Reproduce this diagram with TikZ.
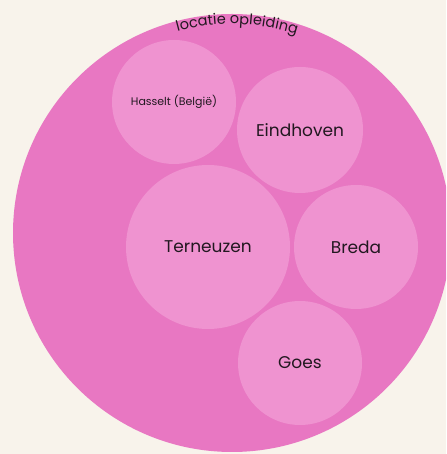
\documentclass[tikz,border=0pt]{standalone}
\usepackage{fontspec}
\setmainfont{Poppins}
\usepackage{xcolor}
\usetikzlibrary{decorations.text}
\definecolor{cream}{RGB}{248,243,235}
\definecolor{rose}{RGB}{232,119,194}
\definecolor{blush}{RGB}{239,147,208}
\definecolor{ink}{RGB}{34,24,32}

\begin{document}
\begin{tikzpicture}[x=1pt, y=1pt,
  region/.style={circle, fill=rose, inner sep=0pt, minimum size=438pt},
  city/.style={circle, fill=blush, inner sep=0pt, minimum size=124pt, text=ink, font=\fontsize{17}{20}\selectfont}
]
\useasboundingbox (0,0) rectangle (446,454);
\fill[cream] (0,0) rectangle (446,454);
\clip (0,0) rectangle (446,454);

\node[region] (loc) at (232, 221) {};
\path[decorate, decoration={text along path, text align=center, text color=ink,
  text={|\fontsize{14.5}{17}\selectfont|locatie opleiding}}]
  (loc.center) ++(128.6:209) arc[start angle=128.6, end angle=48.6, radius=209];

\node[city, font=\fontsize{11}{13}\selectfont] (has) at (174, 352) {Hasselt (België)};
\node[city, minimum size=126pt] (ein) at (300, 324) {Eindhoven};
\node[city, minimum size=164pt] (ter) at (208, 207) {Terneuzen};
\node[city] (bre) at (356, 207) {Breda};
\node[city] (goe) at (300, 91) {Goes};
\end{tikzpicture}
\end{document}
